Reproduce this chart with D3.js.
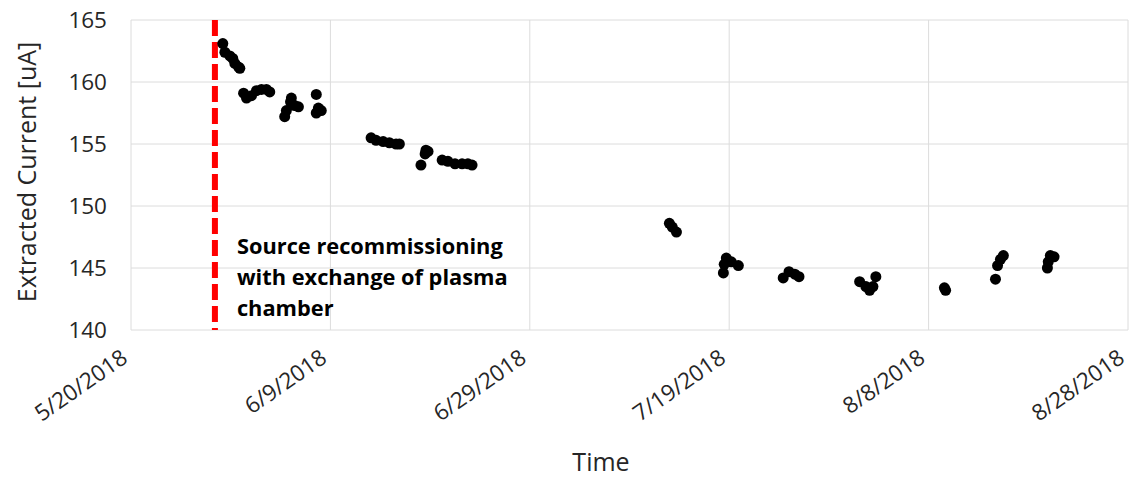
<!DOCTYPE html>
<meta charset="utf-8">
<style>
body { margin: 0; background: #fff; }
svg { font-family: "Open Sans", "Liberation Sans", sans-serif; }
.grid line { stroke: #dcdcdc; stroke-width: 1px; }
.dot { fill: #000; }
.tick-label { font-size: 22.5px; fill: #262626; }
.axis-title { font-size: 25px; fill: #262626; }
.note { font-size: 21.8px; font-weight: bold; fill: #000; }
</style>
<div id="chart"></div>
<script src="https://d3js.org/d3.v7.min.js"></script>
<script>
// measurement times and extracted current (uA)
var times = [
  "2018-05-29 05:00","2018-05-29 10:00","2018-05-29 22:00","2018-05-30 05:00","2018-05-30 10:00","2018-05-30 19:00","2018-05-30 22:00",
  "2018-05-31 07:00","2018-05-31 14:00","2018-06-01 02:00","2018-06-01 14:00","2018-06-02 02:00","2018-06-02 14:00","2018-06-02 22:00",
  "2018-06-04 10:00","2018-06-04 14:00","2018-06-05 00:00","2018-06-05 02:00","2018-06-05 10:00","2018-06-05 19:00",
  "2018-06-07 14:00","2018-06-07 14:00","2018-06-07 19:00","2018-06-08 02:00",
  "2018-06-13 02:00","2018-06-13 14:00","2018-06-14 07:00","2018-06-14 22:00","2018-06-15 14:00","2018-06-15 22:00",
  "2018-06-18 02:00","2018-06-18 12:00","2018-06-18 14:00","2018-06-18 19:00",
  "2018-06-20 05:00","2018-06-20 19:00","2018-06-21 12:00","2018-06-22 05:00","2018-06-22 19:00","2018-06-23 05:00",
  "2018-07-13 00:00","2018-07-13 07:00","2018-07-13 17:00",
  "2018-07-18 10:00","2018-07-18 12:00","2018-07-18 17:00","2018-07-19 05:00","2018-07-19 22:00",
  "2018-07-24 10:00","2018-07-25 00:00","2018-07-25 14:00","2018-07-26 00:00",
  "2018-08-01 02:00","2018-08-01 17:00","2018-08-02 02:00","2018-08-02 10:00","2018-08-02 17:00",
  "2018-08-09 14:00","2018-08-09 17:00",
  "2018-08-14 17:00","2018-08-14 22:00","2018-08-15 05:00","2018-08-15 12:00",
  "2018-08-19 22:00","2018-08-20 00:00","2018-08-20 05:00","2018-08-20 14:00"
];
var currents = [
  163.1,162.4,162.1,161.9,161.5,161.2,161.1,
  159.1,158.7,158.9,159.3,159.4,159.4,159.2,
  157.2,157.7,158.4,158.7,158.1,158.0,
  159.0,157.5,157.9,157.7,
  155.5,155.3,155.2,155.1,155.0,155.0,
  153.3,154.2,154.5,154.4,
  153.7,153.6,153.4,153.4,153.4,153.3,
  148.6,148.3,147.9,
  144.6,145.3,145.8,145.5,145.2,
  144.2,144.7,144.5,144.3,
  143.9,143.5,143.2,143.5,144.3,
  143.4,143.2,
  144.1,145.2,145.7,146.0,
  145.0,145.5,146.0,145.9
];
var recommissionTime = "2018-05-28 10:00";
var noteLines = ["Source recommissioning", "with exchange of plasma", "chamber"];
var yTicks = [140, 145, 150, 155, 160, 165];
var xStart = "2018-05-20 00:00", xEnd = "2018-08-28 00:00";

var parse = d3.timeParse("%Y-%m-%d %H:%M");
var data = times.map(function(t, i) { return { t: parse(t), v: currents[i] }; });

var W = 1130, H = 480;
var margin = { top: 20, right: 2, bottom: 150, left: 131 };
var width = W - margin.left - margin.right,
    height = H - margin.top - margin.bottom;

var svg = d3.select("#chart").append("svg")
    .attr("width", W)
    .attr("height", H);
var g = svg.append("g")
    .attr("transform", "translate(" + margin.left + "," + margin.top + ")");

var x = d3.scaleTime()
    .domain([parse(xStart), parse(xEnd)])
    .range([0, width]);
var y = d3.scaleLinear()
    .domain([140, 165])
    .range([height, 0]);

var xTicks = d3.timeDay.every(1).range(parse(xStart), d3.timeDay.offset(parse(xEnd), 1))
    .filter(function(d, i) { return i % 20 === 0; });
var fmt = d3.timeFormat("%-m/%-d/%Y");

// gridlines
var grid = g.append("g").attr("class", "grid");
grid.selectAll(".hy").data(yTicks).enter().append("line")
    .attr("x1", 0).attr("x2", width)
    .attr("y1", function(d) { return y(d); })
    .attr("y2", function(d) { return y(d); });
grid.selectAll(".vx").data(xTicks).enter().append("line")
    .attr("y1", 0).attr("y2", height)
    .attr("x1", function(d) { return x(d); })
    .attr("x2", function(d) { return x(d); });

// y tick labels
g.selectAll(".ylab").data(yTicks).enter().append("text")
    .attr("class", "tick-label")
    .attr("x", -24)
    .attr("y", function(d) { return y(d); })
    .attr("dy", "0.36em")
    .attr("text-anchor", "end")
    .text(function(d) { return d; });

// x tick labels, rotated
g.selectAll(".xlab").data(xTicks).enter().append("text")
    .attr("class", "tick-label")
    .attr("text-anchor", "end")
    .attr("transform", function(d) { return "translate(" + (x(d) - 2) + "," + (height + 31) + ")rotate(-35)"; })
    .text(function(d) { return fmt(d); });

// recommissioning marker
var xr = x(parse(recommissionTime));
g.append("line")
    .attr("x1", xr).attr("x2", xr)
    .attr("y1", 0).attr("y2", height)
    .attr("stroke", "#ff0000")
    .attr("stroke-width", 6)
    .attr("stroke-dasharray", "16,6");

// data points
g.selectAll(".dot").data(data).enter().append("circle")
    .attr("class", "dot")
    .attr("cx", function(d) { return x(d.t); })
    .attr("cy", function(d) { return y(d.v); })
    .attr("r", 5.5);

// annotation
g.append("text")
    .attr("class", "note")
    .attr("x", xr + 22)
    .attr("y", 234)
    .selectAll("tspan").data(noteLines).enter().append("tspan")
    .attr("x", xr + 22)
    .attr("dy", function(d, i) { return i === 0 ? 0 : 31; })
    .text(function(d) { return d; });

// axis titles
svg.append("text")
    .attr("class", "axis-title")
    .attr("text-anchor", "middle")
    .attr("transform", "translate(" + 36 + "," + (margin.top + height / 2 - 3) + ")rotate(-90)")
    .text("Extracted Current [uA]");
svg.append("text")
    .attr("class", "axis-title")
    .attr("text-anchor", "middle")
    .attr("x", 601)
    .attr("y", 471)
    .text("Time");
</script>
